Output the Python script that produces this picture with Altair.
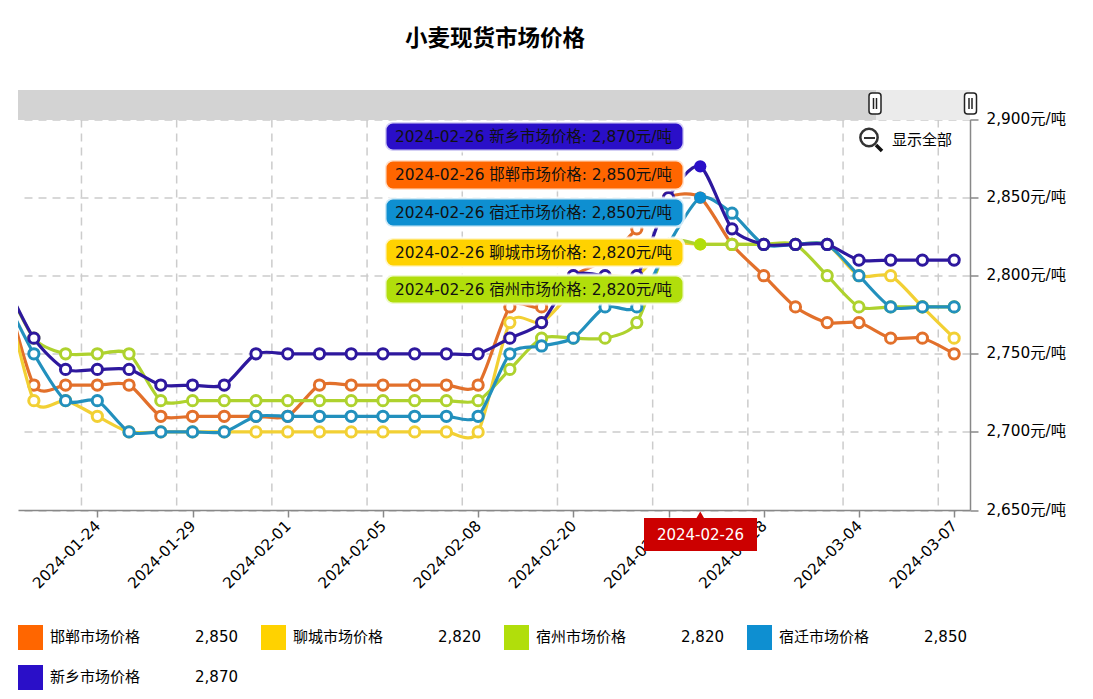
import altair as alt
import pandas as pd

# ---- data ----
TITLE = "小麦现货市场价格"
DATES = ["2024-01-19", "2024-01-22", "2024-01-23", "2024-01-24", "2024-01-25", "2024-01-26",
         "2024-01-29", "2024-01-30", "2024-01-31", "2024-02-01", "2024-02-02", "2024-02-04",
         "2024-02-05", "2024-02-06", "2024-02-07", "2024-02-08", "2024-02-18", "2024-02-19",
         "2024-02-20", "2024-02-21", "2024-02-22", "2024-02-23", "2024-02-26", "2024-02-27",
         "2024-02-28", "2024-02-29", "2024-03-01", "2024-03-04", "2024-03-05", "2024-03-06",
         "2024-03-07"]
NAMES = ["邯郸市场价格", "聊城市场价格", "宿州市场价格", "宿迁市场价格", "新乡市场价格"]
HANDAN = [2800, 2730, 2730, 2730, 2730, 2710, 2710, 2710, 2710, 2710, 2730, 2730, 2730, 2730, 2730, 2730,
          2780, 2780, 2800, 2810, 2830, 2850, 2850, 2820, 2800, 2780, 2770, 2770, 2760, 2760, 2750]
LIAOCHENG = [2800, 2720, 2720, 2710, 2700, 2700, 2700, 2700, 2700, 2700, 2700, 2700, 2700, 2700, 2700, 2700,
             2770, 2770, 2790, 2800, 2800, 2820, 2820, 2820, 2820, 2820, 2820, 2800, 2800, 2780, 2760]
SUZHOU = [2800, 2760, 2750, 2750, 2750, 2720, 2720, 2720, 2720, 2720, 2720, 2720, 2720, 2720, 2720, 2720,
          2740, 2760, 2760, 2760, 2770, 2820, 2820, 2820, 2820, 2820, 2800, 2780, 2780, 2780, 2780]
SUQIAN = [2790, 2750, 2720, 2720, 2700, 2700, 2700, 2700, 2710, 2710, 2710, 2710, 2710, 2710, 2710, 2710,
          2750, 2755, 2760, 2780, 2780, 2820, 2850, 2840, 2820, 2820, 2820, 2800, 2780, 2780, 2780]
XINXIANG = [2800, 2760, 2740, 2740, 2740, 2730, 2730, 2730, 2750, 2750, 2750, 2750, 2750, 2750, 2750, 2750,
            2760, 2770, 2800, 2800, 2800, 2850, 2870, 2830, 2820, 2820, 2820, 2810, 2810, 2810, 2810]
SERIES = [HANDAN, LIAOCHENG, SUZHOU, SUQIAN, XINXIANG]
TICK_LABELS = ["2024-01-24", "2024-01-29", "2024-02-01", "2024-02-05", "2024-02-08",
               "2024-02-20", "2024-02-23", "2024-02-28", "2024-03-04", "2024-03-07"]
Y_TICKS = [2650, 2700, 2750, 2800, 2850, 2900]
HOVER_DATE = "2024-02-26"

# ---- style ----
FONT = "DejaVu Sans, Noto Sans CJK SC"
CJK = "Noto Sans CJK SC"
SOLID = ["#FF6600", "#FFD200", "#B1DE0B", "#0E8FD1", "#2A0FC8"]
LINE = ["#E2702B", "#F2D034", "#AED22E", "#2290BD", "#2E189E"]
GRID = "#CCCCCC"
L, T, W, H = 18, 119.5, 952, 390.5

rows = []
for name, vals, col in zip(NAMES, SERIES, LINE):
    for i, (d, v) in enumerate(zip(DATES, vals)):
        rows.append({"idx": i - 1, "date": d, "name": name, "value": v, "order": i})
df = pd.DataFrame(rows)

xscale = alt.Scale(domain=[-0.5, 29.5], nice=False, zero=False)
yscale = alt.Scale(domain=[2650, 2900], nice=False, zero=False)
hover_idx = DATES.index(HOVER_DATE) - 1
tick_idx = [DATES.index(t) - 1 for t in TICK_LABELS]
grid_idx = [t - 0.5 for t in tick_idx]
lab_js = "{" + ",".join(f"'{i}':'{t}'" for i, t in zip(tick_idx, TICK_LABELS)) + "}"

one = alt.Data(values=[{"a": 0}])


def box(x0, y0, x1, y1, color, **kw):
    return alt.Chart(one).mark_rect(color=color, **kw).encode(
        x=alt.value(x0 - L), x2=alt.value(x1 - L), y=alt.value(y0 - T), y2=alt.value(y1 - T))


def label(x, y, s, size=15, color="#000000", align="left", font=FONT, **kw):
    return alt.Chart(one).mark_text(text=s, fontSize=size, color=color, align=align, baseline="middle",
                                    font=font, **kw).encode(x=alt.value(x - L), y=alt.value(y - T))


def seg(x0, y0, x1, y1, color, width):
    return alt.Chart(one).mark_rule(color=color, strokeWidth=width).encode(
        x=alt.value(x0 - L), x2=alt.value(x1 - L), y=alt.value(y0 - T), y2=alt.value(y1 - T))


layers = []

# grid
layers.append(alt.Chart(pd.DataFrame({"g": grid_idx})).mark_rule(color=GRID, strokeWidth=1.5, strokeDash=[8, 6]).encode(
    x=alt.X("g:Q", scale=xscale)))

layers.append(
    alt.Chart(pd.DataFrame({"t": tick_idx})).mark_point(opacity=0).encode(
        x=alt.X("t:Q", scale=xscale, axis=alt.Axis(
            values=tick_idx, title=None, grid=False, orient="bottom", domainColor="#888888", domainWidth=1.5,
            tickColor="#888888", tickSize=7, tickWidth=1.5, labelAngle=-45, labelAlign="right",
            labelBaseline="middle", labelFont=FONT, labelFontSize=15.2, labelColor="#000000", labelPadding=6,
            labelOverlap=False, labelFlush=False, labelExpr=f"{lab_js}[datum.value]")),
        y=alt.Y("v:Q", scale=yscale, axis=alt.Axis(
            values=Y_TICKS, title=None, orient="right", grid=True, gridColor=GRID, gridWidth=1.5, gridDash=[8, 6],
            domainColor="#888888", domainWidth=1.5, tickColor="#888888", tickSize=8, tickWidth=1.5,
            labelFont=FONT, labelFontSize=15.3, labelColor="#000000", labelPadding=8, labelBaseline="middle",
            labelOffset=-1, labelFlush=False, labelExpr="format(datum.value, ',') + '元/吨'")),
    ).transform_calculate(v="2650")
)

# series
for name, lc, sc in zip(NAMES, LINE, SOLID):
    sub = df[df["name"] == name]
    layers.append(alt.Chart(sub).mark_line(color=lc, strokeWidth=3.2, interpolate="cardinal", tension=0.25, clip=True).encode(
        x=alt.X("idx:Q", scale=xscale), y=alt.Y("value:Q", scale=yscale), order="order:Q"))
    pts = sub[(sub["idx"] >= 0) & (sub["idx"] != hover_idx)]
    layers.append(alt.Chart(pts).mark_point(shape="circle", filled=True, fill="#FFFFFF", stroke=lc, strokeWidth=3,
                                            size=105, opacity=1).encode(
        x=alt.X("idx:Q", scale=xscale), y=alt.Y("value:Q", scale=yscale)))
    hov = sub[sub["idx"] == hover_idx]
    layers.append(alt.Chart(hov).mark_point(shape="circle", filled=True, color=sc, size=150, opacity=1).encode(
        x=alt.X("idx:Q", scale=xscale), y=alt.Y("value:Q", scale=yscale)))

# data-zoom band
layers.append(box(18, 90, 876, 120, "#D3D3D3"))
layers.append(box(876, 90, 970, 120, "#EBEBEB"))
for hx in (875, 970.5):
    layers.append(box(hx - 6, 93, hx + 6, 114, "#FFFFFF", stroke="#222222", strokeWidth=1.5, cornerRadius=3))
    layers.append(seg(hx - 1.5, 98, hx - 1.5, 109, "#222222", 1.5))
    layers.append(seg(hx + 1.5, 98, hx + 1.5, 109, "#222222", 1.5))

# restore-zoom control
layers.append(alt.Chart(one).mark_point(shape="circle", filled=False, stroke="#333333", strokeWidth=2.5, size=300, opacity=1).encode(
    x=alt.value(869 - L), y=alt.value(137.5 - T)))
layers.append(seg(864, 138, 875, 138, "#333333", 2))
layers.append(seg(876, 145, 882, 151, "#111111", 3.5))
layers.append(label(892, 139.5, "显示全部", font=CJK))

# hover tooltips
tips = [(4, 122, 151), (0, 160, 190), (3, 198, 227), (1, 238, 267), (2, 275, 304)]
for s, y0, y1 in tips:
    layers.append(box(385, y0, 684, y1, SOLID[s], stroke="#FFFFFF", strokeOpacity=0.8, strokeWidth=3, cornerRadius=8))
    txt = f"{HOVER_DATE} {NAMES[s]}: {SERIES[s][hover_idx + 1]:,}元/吨"
    layers.append(label(395, (y0 + y1) / 2, txt, size=15.4, color="#111111"))

# axis pointer label
layers.append(box(644, 518, 757, 551, "#CC0000"))
layers.append(alt.Chart(pd.DataFrame({"h": [hover_idx]})).mark_point(shape="triangle-up", filled=True, color="#CC0000", size=110, opacity=1).encode(
    x=alt.X("h:Q", scale=xscale), y=alt.value(516 - T)))
layers.append(label(700.5, 534.5, HOVER_DATE, color="#FFFFFF", align="center"))

# legend
slots = [(18, 637), (261, 637), (504, 637), (747, 637), (18, 677)]
for (sx, sy), name, col, vals in zip(slots, NAMES, SOLID, SERIES):
    layers.append(box(sx, sy - 12, sx + 25, sy + 13, col))
    layers.append(label(sx + 32, sy, name, font=CJK))
    layers.append(label(sx + 220, sy, f"{vals[hover_idx + 1]:,}", align="right"))

# title
layers.append(label(495, 39, TITLE, size=22.5, align="center", font=CJK, fontWeight="bold"))

chart = alt.layer(*layers).properties(
    width=W, height=H,
    autosize=alt.AutoSizeParams(type="none"),
    padding={"left": L - 8, "top": T - 8, "right": 100, "bottom": 188},
    background="#FFFFFF",
).configure_view(stroke=None)

chart.save("out.html", embed_options={"renderer": "svg", "actions": False})
